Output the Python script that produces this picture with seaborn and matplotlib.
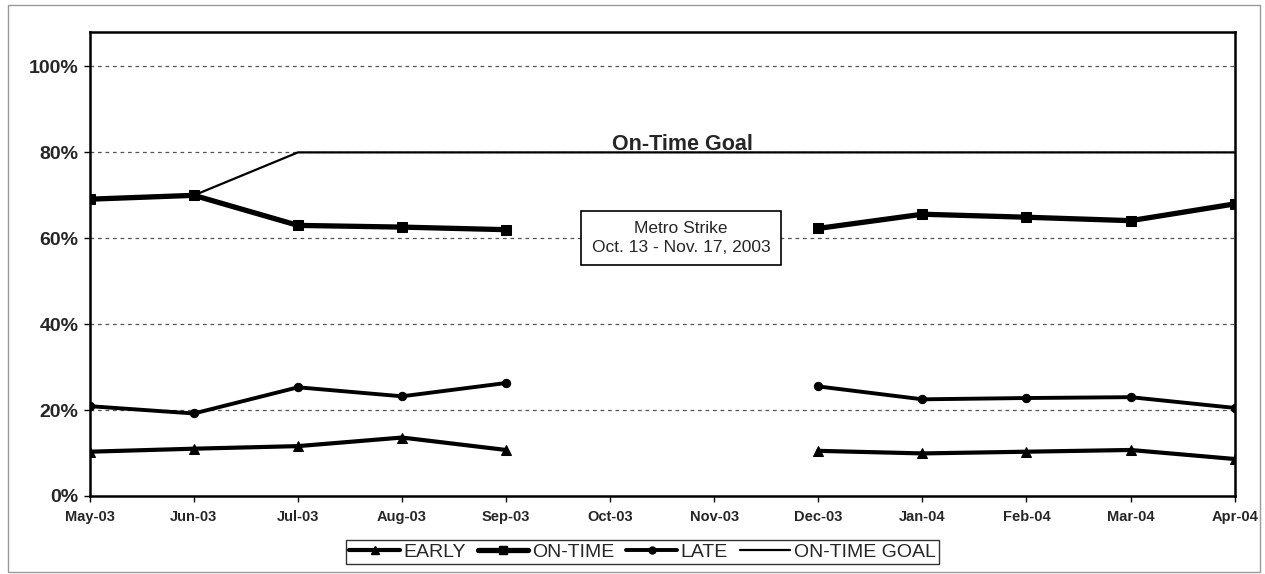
import numpy as np
import pandas as pd
import matplotlib
matplotlib.use("Agg")
import matplotlib.pyplot as plt
from matplotlib.lines import Line2D
from matplotlib.patches import Rectangle
import seaborn as sns

months = ["May-03", "Jun-03", "Jul-03", "Aug-03", "Sep-03", "Oct-03",
          "Nov-03", "Dec-03", "Jan-04", "Feb-04", "Mar-04", "Apr-04"]
early = [10.3, 11.0, 11.6, 13.6, 10.7, np.nan, np.nan, 10.5, 9.9, 10.3, 10.7, 8.6]
on_time = [69.1, 70.0, 63.0, 62.6, 62.0, np.nan, np.nan, 62.3, 65.6, 64.9, 64.1, 68.0]
late = [20.9, 19.2, 25.3, 23.2, 26.3, np.nan, np.nan, 25.5, 22.5, 22.8, 23.0, 20.5]
goal = [69.1, 70.0, 80, 80, 80, 80, 80, 80, 80, 80, 80, 80]
yticks = [0, 20, 40, 60, 80, 100]

sns.set_theme(style="white")
plt.rcParams["font.family"] = ["Liberation Sans", "DejaVu Sans"]

rows = []
for name, vals in [("EARLY", early), ("ON-TIME", on_time), ("LATE", late), ("ON-TIME GOAL", goal)]:
    seg = 0
    for i, v in enumerate(vals):
        if np.isnan(v):
            seg += 1
            continue
        rows.append({"series": name, "x": i, "value": v, "seg": seg})
df = pd.DataFrame(rows)

fig = plt.figure(figsize=(12.65, 5.74), dpi=100)
ax = fig.add_axes([0.071, 0.136, 0.905, 0.808])

styles = {
    "EARLY": dict(marker="^", lw=3.0, ms=7),
    "ON-TIME": dict(marker="s", lw=3.8, ms=7),
    "LATE": dict(marker="o", lw=2.8, ms=6),
    "ON-TIME GOAL": dict(marker=None, lw=1.6, ms=0),
}
for name in ["ON-TIME GOAL", "LATE", "EARLY", "ON-TIME"]:
    st = styles[name]
    sub = df[df.series == name]
    kw = dict(data=sub, x="x", y="value", units="seg", estimator=None,
              color="black", linewidth=st["lw"], ax=ax, legend=False)
    if st["marker"]:
        kw.update(marker=st["marker"], markersize=st["ms"], markeredgecolor="black")
    sns.lineplot(**kw)

ax.set_xlim(0, 11)
ax.set_ylim(0, 108)
ax.set_xticks(range(len(months)))
ax.set_xticklabels(months, fontsize=10.5, fontweight="bold")
ax.set_yticks(yticks)
ax.set_yticklabels([f"{t}%" for t in yticks], fontsize=14, fontweight="bold")
ax.set_xlabel("")
ax.set_ylabel("")
ax.tick_params(axis="both", direction="out", length=4, width=1, color="black", bottom=True, left=True)
ax.tick_params(axis="x", pad=6)
ax.tick_params(axis="y", pad=4)
for t in yticks[1:]:
    ax.axhline(t, color="#555555", lw=0.9, ls=(0, (3, 3)), zorder=0)
for s in ax.spines.values():
    s.set_color("black")
    s.set_linewidth(1.8)

ax.text(5.69, 80.6, "On-Time Goal", ha="center", va="baseline", fontsize=15.5, fontweight="bold")
ax.text(5.68, 60.0, "Metro Strike\nOct. 13 - Nov. 17, 2003", ha="center", va="center",
        fontsize=12.5, linespacing=1.3,
        bbox=dict(boxstyle="square,pad=0.6", fc="white", ec="black", lw=1.2))

handles = [
    Line2D([], [], color="black", lw=3.0, marker="^", ms=6),
    Line2D([], [], color="black", lw=3.8, marker="s", ms=6),
    Line2D([], [], color="black", lw=2.8, marker="o", ms=5),
    Line2D([], [], color="black", lw=1.6),
]
leg = fig.legend(handles, ["EARLY", "ON-TIME", "LATE", "ON-TIME GOAL"], ncol=4,
                 loc="center", bbox_to_anchor=(0.508, 0.038), fontsize=14,
                 frameon=True, fancybox=False, handlelength=2.6, handletextpad=0.2,
                 columnspacing=0.6, borderpad=0.15, borderaxespad=0)
leg.get_frame().set_edgecolor("black")
leg.get_frame().set_linewidth(1.0)

fig.patches.append(Rectangle((0.006, 0.004), 0.99, 0.988, transform=fig.transFigure,
                             fill=False, ec="#999999", lw=1.0))

fig.savefig("out.png", dpi=100)
